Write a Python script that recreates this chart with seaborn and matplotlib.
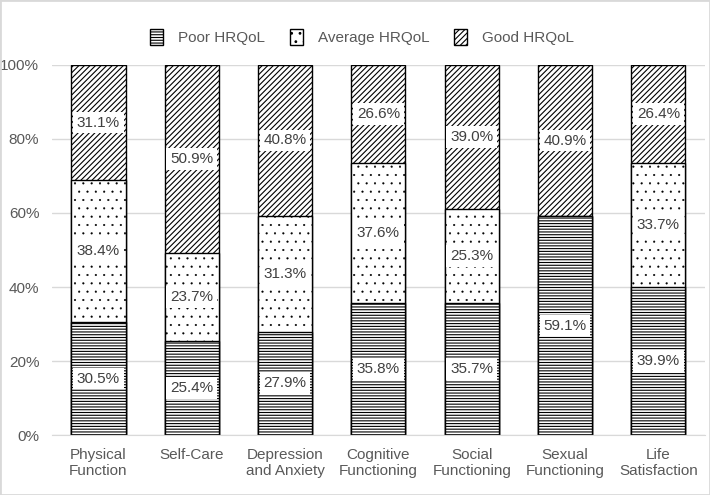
import numpy as np
import pandas as pd
import seaborn as sns
import matplotlib.pyplot as plt
from matplotlib.patches import Patch

# data
categories = ["Physical\nFunction", "Self-Care", "Depression\nand Anxiety", "Cognitive\nFunctioning",
              "Social\nFunctioning", "Sexual\nFunctioning", "Life\nSatisfaction"]
poor = [30.5, 25.4, 27.9, 35.8, 35.7, 59.1, 39.9]
average = [38.4, 23.7, 31.3, 37.6, 25.3, 0.0, 33.7]
good = [31.1, 50.9, 40.8, 26.6, 39.0, 40.9, 26.4]

series_names = ["Poor HRQoL", "Average HRQoL", "Good HRQoL"]
hatches = ["------", "..", "//////"]
hatch_lw = [0.8, 0.3, 0.8]

sns.set_style("white")
plt.rcParams["font.family"] = ["Liberation Sans", "DejaVu Sans"]
plt.rcParams["hatch.color"] = "black"

df = pd.DataFrame({"cat": categories, "poor": poor, "average": average, "good": good})
df["top_avg"] = df["poor"] + df["average"]
df["top_good"] = df["top_avg"] + df["good"]

fig = plt.figure(figsize=(7.1, 4.95), dpi=100)
ax = fig.add_axes([0.073, 0.1212, 0.92, 0.7475])

# stacking by overlaying cumulative bars, tallest first
for col, h, lw in zip(["top_good", "top_avg", "poor"], hatches[::-1], hatch_lw[::-1]):
    plt.rcParams["hatch.linewidth"] = lw
    n0 = len(ax.patches)
    sns.barplot(data=df, x="cat", y=col, ax=ax, color="white", edgecolor="black",
                linewidth=1.0, width=0.58, hatch=h, saturation=1)
    for p in ax.patches[n0:]:
        if hasattr(p, "set_hatch_linewidth"):
            p.set_hatch_linewidth(lw)

ax.set_ylim(0, 100)
ax.set_xlim(-0.5, len(categories) - 0.5)
ax.set_yticks(np.arange(0, 101, 20))
ax.set_yticklabels([f"{v}%" for v in range(0, 101, 20)])
ax.set_xlabel("")
ax.set_ylabel("")
ax.yaxis.grid(True, color="#d9d9d9", linewidth=1)
ax.set_axisbelow(True)
for s in ["top", "right", "left"]:
    ax.spines[s].set_visible(False)
ax.spines["bottom"].set_color("#d9d9d9")
ax.tick_params(axis="both", length=0, labelsize=11, colors="#595959")
ax.tick_params(axis="y", pad=9)
ax.tick_params(axis="x", pad=9)

# value labels
box = dict(boxstyle="square,pad=0.25", facecolor="white", edgecolor="none")
for i in range(len(categories)):
    bottoms = [0, poor[i], poor[i] + average[i]]
    for b, v in zip(bottoms, [poor[i], average[i], good[i]]):
        if v <= 0:
            continue
        ax.text(i, b + v / 2, f"{v:.1f}%", ha="center", va="center",
                fontsize=11, color="#404040", bbox=box, zorder=5)

plt.rcParams["hatch.linewidth"] = 0.8
handles = [Patch(facecolor="white", edgecolor="black", hatch=h, label=n)
           for h, n in zip(hatches, series_names)]
fig.legend(handles=handles, loc="upper center", bbox_to_anchor=(0.51, 0.97), ncol=3,
           frameon=False, fontsize=11, handlelength=0.85, handleheight=1.3,
           handletextpad=1.0, columnspacing=1.6, labelcolor="#595959")

fig.patches.append(plt.Rectangle((0, 0), 1, 1, transform=fig.transFigure,
                                 fill=False, edgecolor="#d9d9d9", linewidth=2))

fig.savefig("out.png", dpi=100)
